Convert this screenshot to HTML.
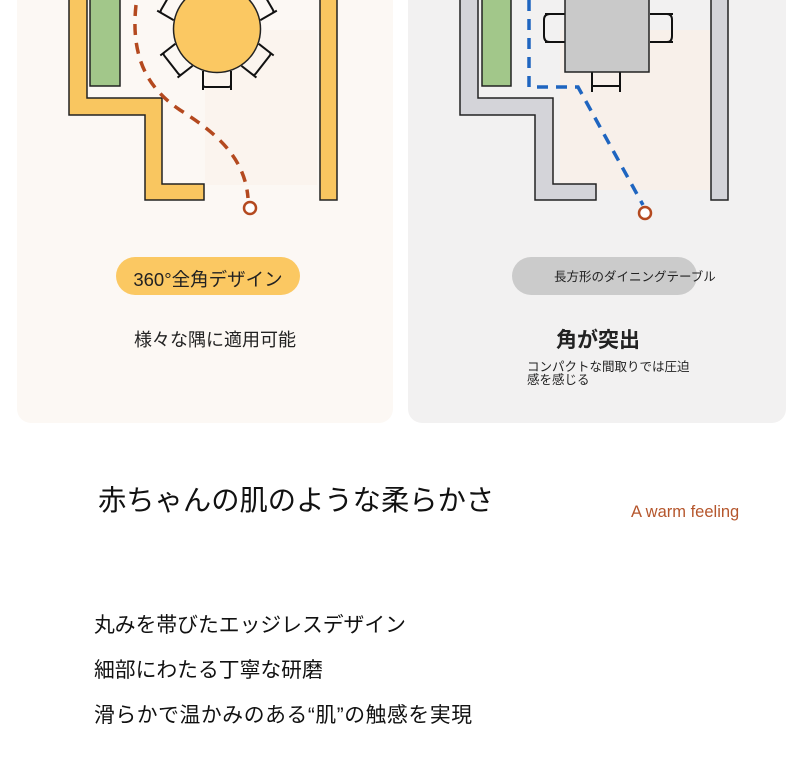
<!DOCTYPE html>
<html><head><meta charset="utf-8"><style>
html,body{margin:0;padding:0;background:#fff;}
body{width:800px;height:764px;overflow:hidden;position:relative;font-family:"Liberation Sans","Noto Sans CJK JP",sans-serif;}
svg{position:absolute;left:0;top:0;}
</style></head><body>
<svg width="800" height="764" viewBox="0 0 800 764" xmlns="http://www.w3.org/2000/svg" font-family="Liberation Sans, Noto Sans CJK JP, sans-serif">
<defs>
<g id="chair"><path d="M-14,42 L-14,61 M14,42 L14,61 M-14,56 Q-14,58 -11,58 L11,58 Q14,58 14,56" fill="none" stroke="#111" stroke-width="2"/></g>
</defs>
<!-- left card -->
<rect x="17" y="-20" width="376" height="443" rx="14" fill="#fcf8f4"/>
<rect x="205" y="30" width="112" height="155" fill="#fbf4ee"/>
<rect x="90" y="-2" width="30" height="88" fill="#a2c78a" stroke="#222" stroke-width="1.5"/>
<path d="M69,-2 L87,-2 L87,98 L162,98 L162,184 L204,184 L204,200 L145,200 L145,115 L69,115 Z" fill="#f9c660" stroke="#222" stroke-width="1.5"/>
<rect x="320" y="-2" width="17" height="202" fill="#f9c660" stroke="#222" stroke-width="1.5"/>
<g transform="translate(217,29)">
<use href="#chair"/>
<use href="#chair" transform="rotate(52)"/>
<use href="#chair" transform="rotate(-52)"/>
<use href="#chair" transform="rotate(120)"/>
<use href="#chair" transform="rotate(-120)"/>
<circle r="43.5" fill="#fbc862" stroke="#222" stroke-width="1.5"/>
</g>
<path d="M136,5 C130,60 150,90 180,110 C220,135 245,160 248,198" fill="none" stroke="#b4491f" stroke-width="3.5" stroke-dasharray="11,8"/>
<circle cx="250" cy="208" r="6" fill="#fff" stroke="#b4491f" stroke-width="2.5"/>
<rect x="116" y="257" width="184" height="38" rx="19" fill="#fbc862"/>
<text x="208" y="286" font-size="18.5" text-anchor="middle" fill="#222">360°全角デザイン</text>
<text x="215" y="346" font-size="18" text-anchor="middle" fill="#222">様々な隅に適用可能</text>
<!-- right card -->
<rect x="408" y="-20" width="378" height="443" rx="14" fill="#f2f1f1"/>
<rect x="560" y="30" width="150" height="160" fill="#f8f0ea"/>
<rect x="482" y="-2" width="29" height="88" fill="#a2c78a" stroke="#222" stroke-width="1.5"/>
<path d="M460,-2 L478,-2 L478,98 L553,98 L553,184 L596,184 L596,200 L535,200 L535,115 L460,115 Z" fill="#d4d4d9" stroke="#222" stroke-width="1.5"/>
<rect x="711" y="-2" width="17" height="202" fill="#d4d4d9" stroke="#222" stroke-width="1.5"/>
<path d="M545,14 L565,14 M545,42 L565,42 M550,14 Q544,14 544,20 L544,36 Q544,42 550,42" fill="none" stroke="#111" stroke-width="2"/>
<path d="M650,14 L673,14 M650,42 L673,42 M667,14 Q672,14 672,20 L672,36 Q672,42 667,42" fill="none" stroke="#111" stroke-width="2"/>
<path d="M592,72 L592,92 M620,72 L620,92 M592,86 L620,86" fill="none" stroke="#111" stroke-width="2"/>
<rect x="565" y="-2" width="84" height="74" fill="#c9c9c9" stroke="#222" stroke-width="1.5"/>
<path d="M529,0 L529,87 L578,87 L643,205" fill="none" stroke="#1f65c0" stroke-width="3.5" stroke-dasharray="11,8"/>
<circle cx="645" cy="213" r="6" fill="#fff" stroke="#b4491f" stroke-width="2.5"/>
<rect x="512" y="257" width="185" height="38" rx="19" fill="#cbcbcb"/>
<text x="554" y="281" font-size="12.5" fill="#222">長方形のダイニングテーブル</text>
<text x="598" y="347" font-size="21" text-anchor="middle" fill="#222" font-weight="bold">角が突出</text>
<text x="527" y="371" font-size="12.5" fill="#222">コンパクトな間取りでは圧迫</text>
<text x="527" y="384" font-size="12.5" fill="#222">感を感じる</text>
<!-- bottom -->
<text x="98" y="510" font-size="28.3" fill="#111">赤ちゃんの肌のような柔らかさ</text>
<text x="631" y="517" font-size="16.5" fill="#b5562c">A warm feeling</text>
<text x="94" y="632" font-size="20.8" fill="#111">丸みを帯びたエッジレスデザイン</text>
<text x="94" y="677" font-size="20.8" fill="#111">細部にわたる丁寧な研磨</text>
<text x="94" y="722" font-size="20.8" fill="#111" textLength="378">滑らかで温かみのある“肌”の触感を実現</text>
</svg>
</body></html>
